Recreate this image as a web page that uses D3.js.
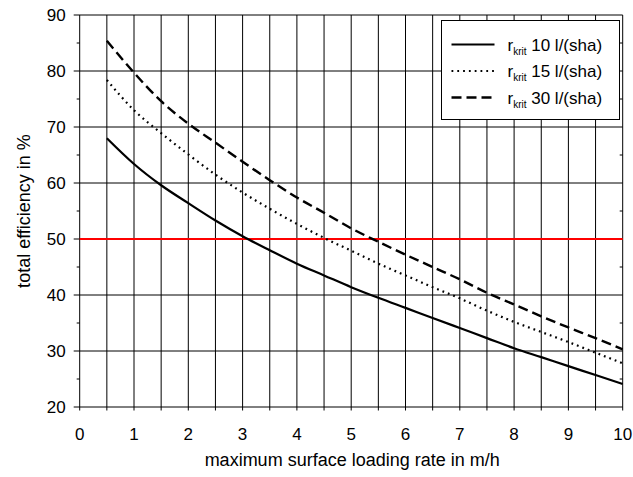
<!DOCTYPE html>
<html>
<head>
<meta charset="utf-8">
<script src="https://cdn.jsdelivr.net/npm/d3@7"></script>
<style>
  body { margin: 0; background: #fff; }
  text { font-family: "Liberation Sans", Arial, sans-serif; fill: #000; }
</style>
</head>
<body>
<div id="chart"></div>
<script>
const width = 633;
const height = 477;

// loading rate in m/h
const loadRate = [0.5, 1, 1.5, 2, 2.5, 3, 3.5, 4, 4.5, 5, 5.5, 6, 6.5, 7, 7.5, 8, 8.5, 9, 9.5, 10];
// total efficiency in % for each r_krit
const eff10 = [68.0, 63.4, 59.6, 56.4, 53.3, 50.5, 48.0, 45.6, 43.5, 41.4, 39.5, 37.7, 35.9, 34.1, 32.3, 30.5, 28.9, 27.3, 25.7, 24.1];
const eff15 = [78.4, 73.0, 68.9, 65.1, 61.5, 58.3, 55.4, 52.7, 50.2, 47.9, 45.6, 43.5, 41.4, 39.4, 37.2, 35.2, 33.4, 31.6, 29.7, 27.8];
const eff30 = [85.4, 79.7, 74.6, 70.6, 67.2, 63.8, 60.5, 57.4, 54.7, 51.9, 49.5, 47.2, 45.0, 42.8, 40.4, 38.3, 36.2, 34.2, 32.3, 30.3];
const seriesNames = ["10 l/(sha)", "15 l/(sha)", "30 l/(sha)"];
const targetEff = 50;

const xTicks = [0, 1, 2, 3, 4, 5, 6, 7, 8, 9, 10];
const yTicks = [20, 30, 40, 50, 60, 70, 80, 90];

const margin = { top: 15, right: 10.3, bottom: 70, left: 79.7 };

const svg = d3.select("#chart").append("svg")
  .attr("width", width)
  .attr("height", height);

const x = d3.scaleLinear()
  .domain([0, 10])
  .range([margin.left, width - margin.right]);

const y = d3.scaleLinear()
  .domain([20, 90])
  .range([height - margin.bottom, margin.top]);

const grid = svg.append("g").attr("stroke", "#000").attr("stroke-width", 1);

// vertical grid every 0.5, poking 3px below the axis
grid.selectAll("line.v")
  .data(d3.range(0, 10.01, 0.5))
  .enter().append("line")
  .attr("class", "v")
  .attr("x1", d => x(d)).attr("x2", d => x(d))
  .attr("y1", y(90)).attr("y2", y(20) + 3.5);

// horizontal grid, major ticks stick out left
grid.selectAll("line.h")
  .data(yTicks)
  .enter().append("line")
  .attr("class", "h")
  .attr("x1", x(0) - 6).attr("x2", x(10))
  .attr("y1", d => y(d)).attr("y2", d => y(d));

// minor y ticks, outside left and inside right
const minorY = d3.range(25, 90, 10);
grid.selectAll("line.ml")
  .data(minorY)
  .enter().append("line")
  .attr("x1", x(0) - 3).attr("x2", x(0))
  .attr("y1", d => y(d)).attr("y2", d => y(d));
grid.selectAll("line.mr")
  .data(minorY)
  .enter().append("line")
  .attr("x1", x(10) - 3).attr("x2", x(10))
  .attr("y1", d => y(d)).attr("y2", d => y(d));

// tick labels
svg.append("g").selectAll("text")
  .data(xTicks)
  .enter().append("text")
  .attr("x", d => x(d))
  .attr("y", y(20) + 33)
  .attr("text-anchor", "middle")
  .style("font-size", "17px")
  .text(d => d);

svg.append("g").selectAll("text")
  .data(yTicks)
  .enter().append("text")
  .attr("x", x(0) - 14)
  .attr("y", d => y(d) + 6)
  .attr("text-anchor", "end")
  .style("font-size", "17px")
  .text(d => d);

// 50 % line
svg.append("line")
  .attr("x1", x(0)).attr("x2", x(10))
  .attr("y1", y(targetEff)).attr("y2", y(targetEff))
  .attr("stroke", "#ff0000")
  .attr("stroke-width", 2.2);

const line = d3.line()
  .x(d => x(d[0]))
  .y(d => y(d[1]))
  .curve(d3.curveMonotoneX);

const styles = [
  { dash: null, width: 2.2 },
  { dash: "1.8,4", width: 2.2 },
  { dash: "10,5", width: 2.4 }
];

[eff10, eff15, eff30].forEach(function (vals, i) {
  svg.append("path")
    .datum(loadRate.map((r, j) => [r, vals[j]]))
    .attr("fill", "none")
    .attr("stroke", "#000")
    .attr("stroke-width", styles[i].width)
    .attr("stroke-dasharray", styles[i].dash)
    .attr("d", line);
});

// legend
const legend = svg.append("g").attr("transform", "translate(441.5,20.5)");
legend.append("rect")
  .attr("width", 178)
  .attr("height", 99)
  .attr("fill", "#fff")
  .attr("stroke", "#000")
  .attr("stroke-width", 1);

seriesNames.forEach(function (name, i) {
  const cy = 24 + i * 26.5;
  legend.append("line")
    .attr("x1", 10).attr("x2", 53)
    .attr("y1", cy).attr("y2", cy)
    .attr("stroke", "#000")
    .attr("stroke-width", styles[i].width)
    .attr("stroke-dasharray", styles[i].dash);
  const t = legend.append("text")
    .attr("x", 66)
    .attr("y", cy + 6)
    .style("font-size", "17px");
  t.append("tspan").text("r");
  t.append("tspan").attr("dy", 4).style("font-size", "10px").text("krit");
  t.append("tspan").attr("dy", -4).text(" " + name);
});

// axis titles
svg.append("text")
  .attr("x", (x(0) + x(10)) / 2 + 1)
  .attr("y", 466)
  .attr("text-anchor", "middle")
  .style("font-size", "18px")
  .text("maximum surface loading rate in m/h");

svg.append("text")
  .attr("transform", "translate(30," + ((y(20) + y(90)) / 2) + ") rotate(-90)")
  .attr("text-anchor", "middle")
  .style("font-size", "18px")
  .text("total efficiency in %");
</script>
</body>
</html>
